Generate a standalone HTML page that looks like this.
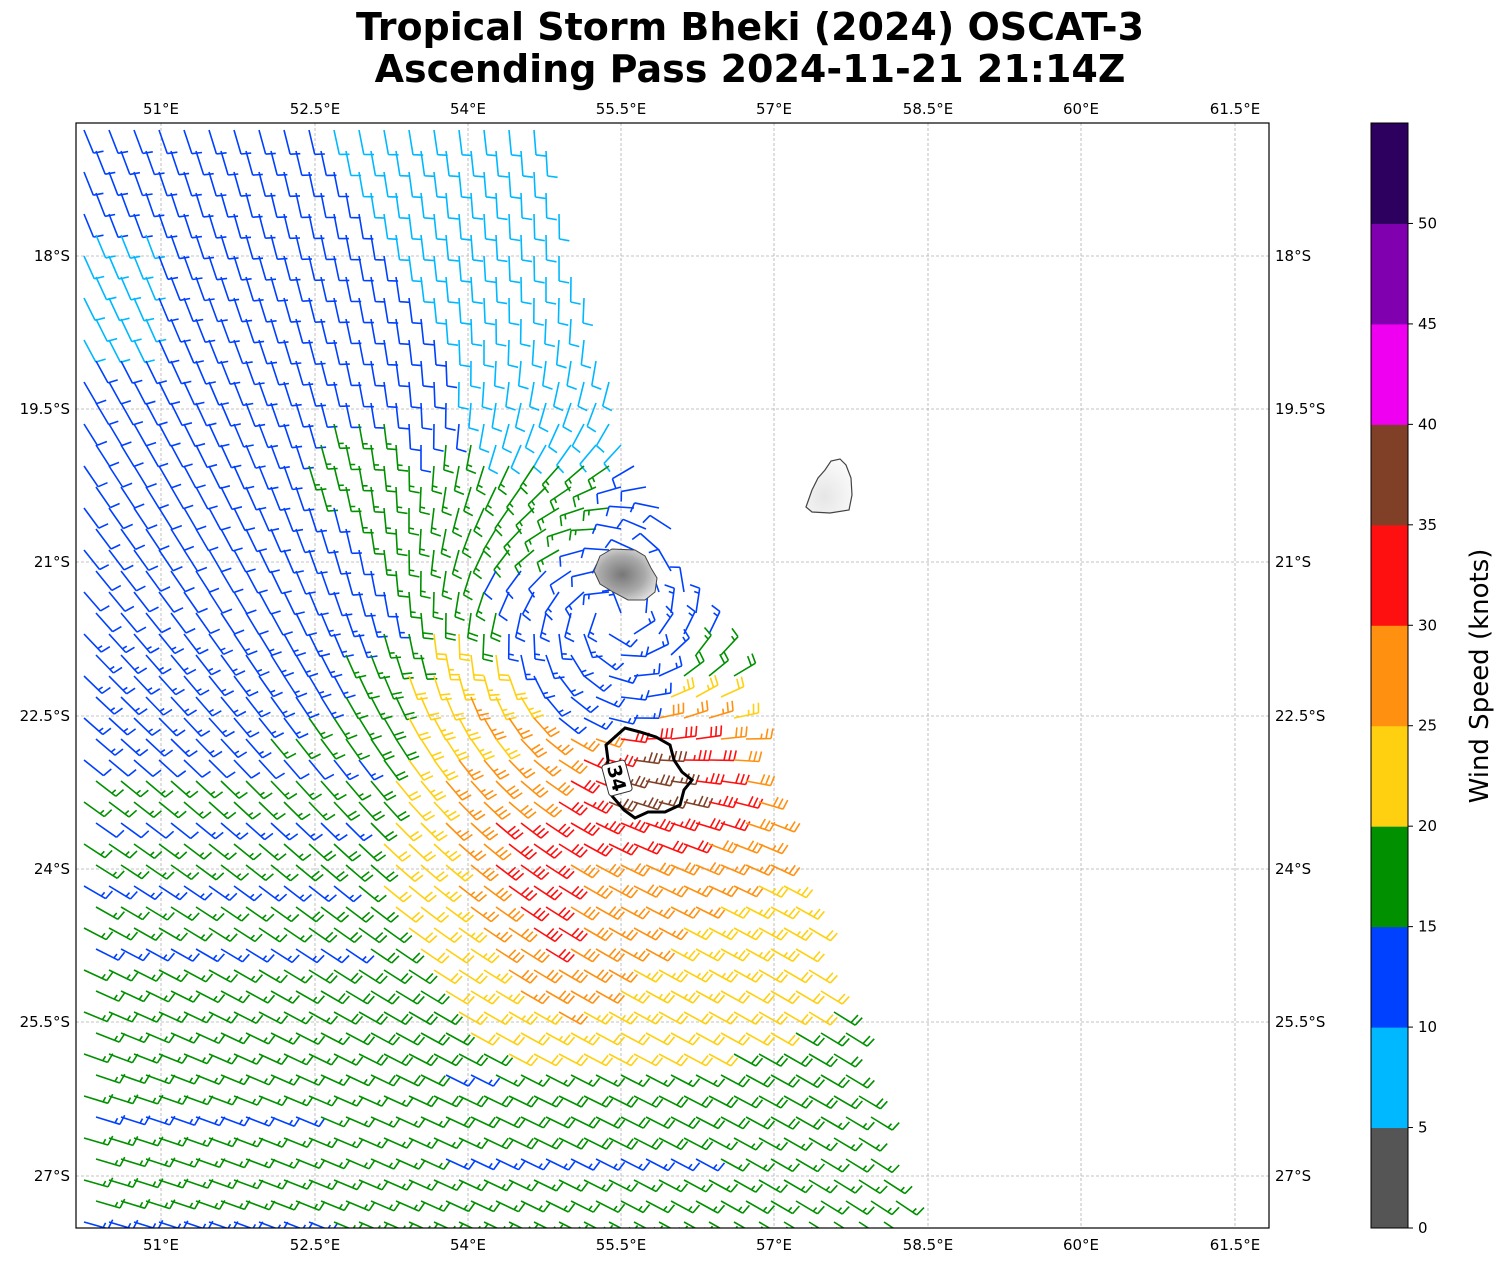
<!DOCTYPE html>
<html><head><meta charset="utf-8">
<style>
html,body{margin:0;padding:0;background:#fff;}
svg{display:block;font-family:"DejaVu Sans","Liberation Sans",sans-serif;}
</style></head><body>
<svg id="s" width="1507" height="1264" viewBox="0 0 1507 1264" xmlns="http://www.w3.org/2000/svg">
<defs>
<clipPath id="pc"><rect x="76" y="123" width="1193" height="1105"/></clipPath>
<radialGradient id="rg" cx="0.45" cy="0.5" r="0.6">
<stop offset="0" stop-color="#777"/><stop offset="0.6" stop-color="#aaa"/><stop offset="1" stop-color="#e0e0e0"/>
</radialGradient>
<radialGradient id="mg" cx="0.4" cy="0.7" r="0.7">
<stop offset="0" stop-color="#e6e6e6"/><stop offset="1" stop-color="#fafafa"/>
</radialGradient>
</defs>
<text x="750" y="40" text-anchor="middle" font-size="38" font-weight="bold">Tropical Storm Bheki (2024) OSCAT-3</text>
<text x="750" y="82" text-anchor="middle" font-size="38" font-weight="bold">Ascending Pass 2024-11-21 21:14Z</text>
<g id="grid" stroke="#b0b0b0" stroke-width="0.8" stroke-dasharray="3,2"></g>
<g id="barbs" clip-path="url(#pc)" fill="none" stroke-width="1.6" stroke-linecap="butt"></g>
<path d="M600,556 L612,549 L635,550 L645,556 L651,568 L657,578 L655,592 L645,600 L628,600 L613,592 L600,584 L594,571 Z" fill="url(#rg)" stroke="#444" stroke-width="1"/>
<path d="M806,507 L812,490 L818,478 L825,470 L831,461 L840,459 L846,465 L851,478 L852,495 L849,510 L830,513 L812,512 Z" fill="url(#mg)" stroke="#444" stroke-width="1.2"/>
<path d="M625,728 L640,732 L656,737 L670,745 L674,760 L682,772 L692,780 L684,790 L680,805 L665,812 L648,812 L635,818 L624,810 L612,796 L606,780 L608,760 L606,745 Z" fill="none" stroke="#000" stroke-width="3"/>
<g transform="translate(617,778) rotate(75)">
<rect x="-16" y="-12" width="32" height="24" rx="3" fill="#fff" stroke="#333" stroke-width="1"/>
<text x="0" y="7" text-anchor="middle" font-size="19" font-weight="bold">34</text>
</g>
<rect x="76" y="123" width="1193" height="1105" fill="none" stroke="#000" stroke-width="1.2"/>
<g id="ticks" font-size="15"></g>
<g id="cb"></g>
<text transform="translate(1488,676) rotate(-90)" text-anchor="middle" font-size="26">Wind Speed (knots)</text>
</svg>
<script>
var NS="http://www.w3.org/2000/svg";
function el(p,t,a,txt){var e=document.createElementNS(NS,t);for(var k in a)e.setAttribute(k,a[k]);if(txt!==undefined)e.textContent=txt;p.appendChild(e);return e;}
var grid=document.getElementById('grid'),ticks=document.getElementById('ticks');
var lons=[[161,"51°E"],[315,"52.5°E"],[468,"54°E"],[621,"55.5°E"],[774,"57°E"],[928,"58.5°E"],[1081,"60°E"],[1235,"61.5°E"]];
var lats=[[256,"18°S"],[409,"19.5°S"],[562,"21°S"],[716,"22.5°S"],[869,"24°S"],[1022,"25.5°S"],[1176,"27°S"]];
lons.forEach(function(l){el(grid,'line',{x1:l[0],y1:123,x2:l[0],y2:1228});
 el(ticks,'text',{x:l[0],y:114,'text-anchor':'middle'},l[1]);
 el(ticks,'text',{x:l[0],y:1250,'text-anchor':'middle'},l[1]);});
lats.forEach(function(l){el(grid,'line',{x1:76,y1:l[0],x2:1269,y2:l[0]});
 el(ticks,'text',{x:70,y:l[0]+5,'text-anchor':'end'},l[1]);
 el(ticks,'text',{x:1275,y:l[0]+5,'text-anchor':'start'},l[1]);});
var cols=["#555555","#00b8ff","#0040ff","#009000","#ffd010","#ff9010","#ff1010","#804028","#f000f0","#8000b0","#2d0060"];
var cb=document.getElementById('cb');var h=1105/11;
for(var i=0;i<11;i++){el(cb,'rect',{x:1371,y:1228-(i+1)*h,width:37,height:h+0.5,fill:cols[i]});}
el(cb,'rect',{x:1371,y:123,width:37,height:1105,fill:'none',stroke:'#000','stroke-width':1});
for(var i=0;i<=10;i++){var y=1228-i*h;el(cb,'line',{x1:1408,y1:y,x2:1413,y2:y,stroke:'#000'});
 el(cb,'text',{x:1418,y:y+5,'font-size':15},String(i*5));}
function cl(v,a,b){return Math.max(a,Math.min(b,v));}
function segd(x,y,ax,ay,bx_,by){var vx=bx_-ax,vy=by-ay;var t=cl(((x-ax)*vx+(y-ay)*vy)/(vx*vx+vy*vy),0,1);return Math.hypot(x-ax-t*vx,y-ay-t*vy);}
var bx=[[120,540],[440,625],[520,670],[620,715],[690,740],[800,765],[1000,840],[1200,900],[1240,905]];
function xmax(y){if(y<=bx[0][0])return bx[0][1];for(var i=1;i<bx.length;i++){if(y<=bx[i][0]){var t=(y-bx[i-1][0])/(bx[i][0]-bx[i-1][0]);return bx[i-1][1]+t*(bx[i][1]-bx[i-1][1]);}}return 905;}
var CX=592,CY=640;
function spd(x,y,row){var r=Math.hypot(x-CX,y-CY);var s=11.5;
 if(y<460&&x>320+(y-130)*0.55)s=8;
 if(x<150&&y>230&&y<360)s=8;
 var dg=segd(x,y,350,450,520,700);
 if(dg<45)s=16;
 if(x>430&&y>440&&y<560&&x<610&&r>95)s=16;
 s+=5*cl((y-580)/250,0,1);
 if(x<360&&y>600&&y<960&&row%3==0&&s>=15)s-=4;
 if(y>1060&&x>430&&x<720&&row%4==1)s-=4;
 if(y>1080&&x<320&&row%5==2)s-=4;
 s+=13*Math.exp(-(Math.pow((x-650)/100,2)+Math.pow((y-775)/70,2)));
 s+=8*Math.exp(-(Math.pow((x-560)/190,2)+Math.pow((y-880)/190,2)));
 s+=6*Math.exp(-Math.pow(segd(x,y,410,640,540,960)/60,2))*cl((y-600)/60,0,1);
 s+=6*cl((x-450)/300,0,1)*cl((1150-y)/300,0,1)*cl((y-620)/100,0,1);
 if(r<90)s=Math.min(s,13);
 return Math.max(s,10.5);}
var g=document.getElementById('barbs');
var L=25,FL=10,SP=5;
for(var y=130,row=0;y<1235;y+=21,row++){
 var xm=xmax(y);
 for(var x=84+(row%2)*12;x<=xm;x+=25){
  var yy=y;
  var dx=x-CX,dy=yy-CY,r=Math.hypot(dx,dy)+1e-6;
  var vm=r<110?22*r/110:22*Math.pow(110/r,2);
  var ang=(64-50*cl((yy-200)/900,0,1)+(x-100)*0.03)*Math.PI/180;
  var ex=Math.cos(ang),ey=Math.sin(ang);
  var vx=-ex*7+(-dy/r)*vm-(dx/r)*0.2*vm;
  var vy=-ey*7+(dx/r)*vm-(dy/r)*0.2*vm;
  var m=Math.hypot(vx,vy);var d1=-vx/m,d2=-vy/m;
  var n1=d2,n2=-d1;
  var s=spd(x,yy,row);
  if(y<460&&x>320+(y-130)*0.55)s=8;
  if(x<150&&y>230&&y<360)s=8;
  var ci=cl(Math.floor(s/5),0,10);
  var sr=Math.round(s/5)*5;var n10=Math.floor(sr/10),n5=(sr%10)>=5?1:0;
  var tx=x+d1*L,ty=yy+d2*L;
  var p="M"+x.toFixed(1)+","+yy.toFixed(1)+"L"+tx.toFixed(1)+","+ty.toFixed(1);
  var pos=0;
  for(var k=0;k<n10;k++){var qx=tx-d1*pos,qy=ty-d2*pos;
   p+="M"+qx.toFixed(1)+","+qy.toFixed(1)+"L"+(qx+n1*FL+d1*2).toFixed(1)+","+(qy+n2*FL+d2*2).toFixed(1);pos+=SP;}
  if(n5){if(n10==0)pos=SP;var qx=tx-d1*pos,qy=ty-d2*pos;
   p+="M"+qx.toFixed(1)+","+qy.toFixed(1)+"L"+(qx+n1*FL*0.5+d1).toFixed(1)+","+(qy+n2*FL*0.5+d2).toFixed(1);}
  el(g,'path',{d:p,stroke:cols[ci]});
 }}
</script>
</body></html>
